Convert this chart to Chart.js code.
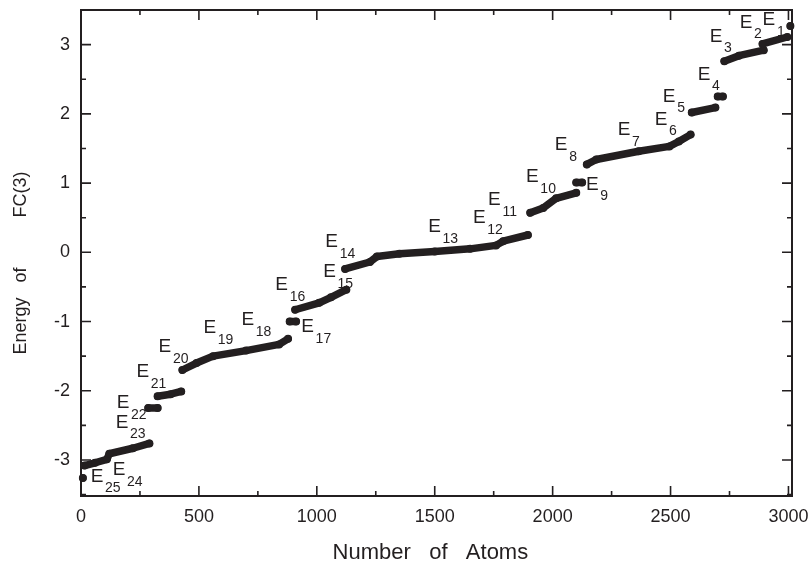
<!DOCTYPE html>
<html>
<head>
<meta charset="utf-8">
<script src="https://cdn.jsdelivr.net/npm/chart.js@4"></script>
<style>
  html, body { margin: 0; padding: 0; background: #fff; }
  #wrap { width: 810px; height: 568px; }
</style>
</head>
<body>
<div id="wrap"><canvas id="chart" width="810" height="568"></canvas></div>
<script>
// atom index (sorted) and FC(3) energy; null breaks the curve between levels
const atoms = [
  8, null,
  15, 60, 110, 120, 220, 290, null,
  285, 325, null,
  325, 380, 425, null,
  430, 490, 560, 700, 840, 878, null,
  885, 912, null,
  908, 1010, 1060, 1125, null,
  1120, 1225, 1255, 1350, 1500, 1650, 1760, 1790, 1895, null,
  1905, 1960, 2015, 2100, null,
  2100, 2125, null,
  2145, 2185, 2365, 2495, 2535, 2585, null,
  2590, 2690, null,
  2700, 2722, null,
  2728, 2790, 2895, null,
  2890, 2995, null,
  3008
];
const energy = [
  -3.26, null,
  -3.08, -3.04, -2.99, -2.91, -2.83, -2.76, null,
  -2.25, -2.25, null,
  -2.08, -2.05, -2.01, null,
  -1.70, -1.60, -1.50, -1.42, -1.33, -1.25, null,
  -1.00, -1.00, null,
  -0.83, -0.73, -0.65, -0.54, null,
  -0.24, -0.14, -0.06, -0.02, 0.01, 0.05, 0.10, 0.16, 0.25, null,
  0.57, 0.64, 0.78, 0.86, null,
  1.01, 1.01, null,
  1.27, 1.34, 1.46, 1.53, 1.60, 1.70, null,
  2.02, 2.09, null,
  2.25, 2.25, null,
  2.76, 2.84, 2.92, null,
  3.01, 3.11, null,
  3.27
];

// tick values
const xTicks = [0, 500, 1000, 1500, 2000, 2500, 3000];
const yTicks = [-3, -2, -1, 0, 1, 2, 3];

// level labels E1..E25 (subscript text, anchor in data units)
const levelNames = ['1','2','3','4','5','6','7','8','9','10','11','12','13',
                    '14','15','16','17','18','19','20','21','22','23','24','25'];
const levelX = [2917, 2820, 2693, 2642, 2494, 2460, 2303, 2036, 2168, 1914, 1753, 1689, 1499,
                1063, 1054, 851, 961, 707, 546, 356, 262, 178, 174, 161, 68];
const levelY = [3.36, 3.32, 3.12, 2.57, 2.25, 1.92, 1.77, 1.55, 0.98, 1.09, 0.76, 0.50, 0.37,
                0.15, -0.28, -0.47, -1.08, -0.98, -1.09, -1.37, -1.73, -2.18, -2.46, -3.14, -3.24];

const INK = '#231f20';
const FONT = '"Liberation Sans", Arial, Helvetica, sans-serif';

// frame with inward major/minor ticks on all four sides
const framePlugin = {
  id: 'frame',
  beforeDatasetsDraw(chart) {
    const { ctx, chartArea: a, scales: { x, y } } = chart;
    ctx.save();
    ctx.strokeStyle = INK;
    ctx.lineWidth = 2;
    ctx.strokeRect(a.left, a.top, a.right - a.left, a.bottom - a.top);
    ctx.lineWidth = 1.6;
    ctx.beginPath();
    for (let v = 0; v <= x.max; v += 250) {
      const px = x.getPixelForValue(v);
      const len = v % 500 === 0 ? 10 : 5;
      ctx.moveTo(px, a.bottom); ctx.lineTo(px, a.bottom - len);
      ctx.moveTo(px, a.top); ctx.lineTo(px, a.top + len);
    }
    for (let v = -3.5; v <= y.max; v += 0.5) {
      const py = y.getPixelForValue(v);
      const len = Number.isInteger(v) ? 10 : 5;
      ctx.moveTo(a.left, py); ctx.lineTo(a.left + len, py);
      ctx.moveTo(a.right, py); ctx.lineTo(a.right - len, py);
    }
    ctx.stroke();
    ctx.restore();
  }
};

const labelPlugin = {
  id: 'levels',
  afterDatasetsDraw(chart) {
    const { ctx, scales: { x, y } } = chart;
    ctx.save();
    ctx.fillStyle = INK;
    ctx.textBaseline = 'middle';
    levelNames.forEach((n, i) => {
      const px = x.getPixelForValue(levelX[i]);
      const py = y.getPixelForValue(levelY[i]);
      ctx.font = '19px ' + FONT;
      ctx.textAlign = 'center';
      ctx.fillText('E', px, py);
      ctx.font = '14px ' + FONT;
      ctx.textAlign = 'left';
      ctx.fillText(n, px + 8, py + 12);
    });
    ctx.restore();
  }
};

new Chart(document.getElementById('chart'), {
  type: 'scatter',
  data: {
    datasets: [{
      data: atoms.map((a, i) => ({ x: a, y: energy[i] })),
      showLine: true,
      spanGaps: false,
      borderColor: INK,
      backgroundColor: INK,
      borderWidth: 7.5,
      borderCapStyle: 'round',
      borderJoinStyle: 'round',
      pointRadius: 4,
      pointBorderWidth: 0,
      pointHoverRadius: 4,
      clip: false
    }]
  },
  options: {
    responsive: false,
    animation: false,
    events: [],
    layout: { padding: { left: 0, right: 18, top: 10, bottom: 0 } },
    plugins: { legend: { display: false }, tooltip: { enabled: false } },
    scales: {
      x: {
        type: 'linear',
        min: 0,
        max: 3015,
        grid: { display: false, drawTicks: false },
        border: { display: false },
        afterBuildTicks: s => { s.ticks = xTicks.map(v => ({ value: v })); },
        ticks: {
          padding: 10,
          color: INK,
          font: { family: FONT, size: 18 },
          maxRotation: 0,
          autoSkip: false,
          callback: v => String(v)
        },
        title: {
          display: true,
          text: 'Number   of   Atoms  ',
          color: INK,
          font: { family: FONT, size: 22 },
          padding: { top: 0, bottom: 2 }
        },
        afterFit: s => { s.height = 72; s.paddingLeft = 0; s.paddingRight = 0; }
      },
      y: {
        type: 'linear',
        min: -3.52,
        max: 3.5,
        grid: { display: false, drawTicks: false },
        border: { display: false },
        afterBuildTicks: s => { s.ticks = yTicks.map(v => ({ value: v })); },
        ticks: {
          padding: 11,
          color: INK,
          font: { family: FONT, size: 18 },
          autoSkip: false,
          callback: v => String(v)
        },
        title: {
          display: true,
          text: 'Energy   of          FC(3)    ',
          color: INK,
          font: { family: FONT, size: 18 },
          padding: { top: 10, bottom: 0 }
        },
        afterFit: s => { s.width = 81; s.paddingTop = 0; s.paddingBottom = 0; }
      }
    }
  },
  plugins: [framePlugin, labelPlugin]
});
</script>
</body>
</html>
